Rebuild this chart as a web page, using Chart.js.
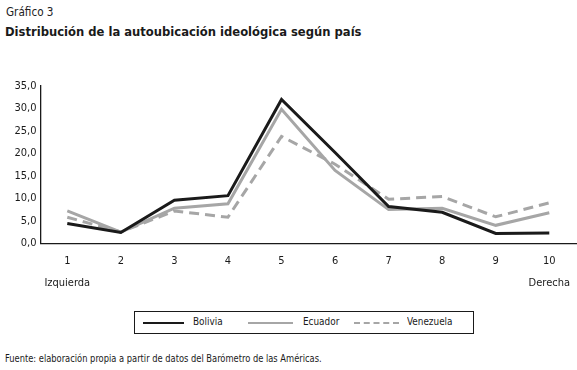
<!DOCTYPE html>
<html>
<head>
<meta charset="utf-8">
<script src="https://cdn.jsdelivr.net/npm/chart.js@4/dist/chart.umd.min.js"></script>
<style>
  html, body { margin: 0; padding: 0; background: #fff; }
  body { width: 577px; height: 370px; position: relative; overflow: hidden;
         font-family: 'Liberation Sans Narrow', 'DejaVu Sans Condensed', sans-serif; color: #1a1a1a; }
  #wrap { position: absolute; left: 0; top: 0; width: 577px; height: 300px; }
  .t { position: absolute; white-space: nowrap; transform-origin: left center; }
  #g3 { left: 6px; top: 4px; font-size: 12.5px; transform: scaleX(0.93); color: #222; }
  #ttl { left: 5px; top: 24px; font-size: 13px; font-weight: bold; transform: scaleX(0.99); }
  #src { left: 5px; top: 353px; font-size: 10px; transform: scaleX(0.925); }
  #legend { position: absolute; left: 134px; top: 311px; width: 338px; height: 21px; border: 1px solid #1a1a1a; }
  .ln { position: absolute; top: 10px; height: 0; }
  .lt { position: absolute; top: 3px; font-size: 10.5px; transform-origin: left center; transform: scaleX(0.94); }
</style>
</head>
<body>
<div class="t" id="g3">Gráfico 3</div>
<div class="t" id="ttl">Distribución de la autoubicación ideológica según país</div>
<div id="wrap"><canvas id="c"></canvas></div>
<div id="legend"></div>
<div class="t" id="src">Fuente: elaboración propia a partir de datos del Barómetro de las Américas.</div>
<script>
const categories = [['1','Izquierda'],'2','3','4','5','6','7','8','9',['10','Derecha']];
const seriesNames = ['Bolivia','Ecuador','Venezuela'];
const bolivia   = [4.4, 2.4, 9.6, 10.6, 32.0, 20.2, 8.2, 6.9, 2.2, 2.3];
const ecuador   = [7.2, 2.5, 7.8, 8.8, 29.8, 16.2, 7.5, 7.8, 4.0, 6.8];
const venezuela = [5.8, 2.5, 7.2, 5.8, 23.8, 17.6, 9.8, 10.4, 5.9, 9.0];
const yTicks = [0, 5, 10, 15, 20, 25, 30, 35];

const colors = ['#1a1a1a', '#a6a6a6', '#a6a6a6'];
const dashes = [[], [], [10, 6]];
const values = [bolivia, ecuador, venezuela];
const FONT = "'Liberation Sans Narrow', 'DejaVu Sans Condensed', sans-serif";

// legend (HTML)
const legend = document.getElementById('legend');
const legPos = [{l: 8, w: 41, tx: 58}, {l: 113, w: 45, tx: 168}, {l: 219, w: 45, tx: 272}];
seriesNames.forEach((n, i) => {
  const ln = document.createElement('div');
  ln.className = 'ln';
  ln.style.left = legPos[i].l + 'px';
  ln.style.width = legPos[i].w + 'px';
  ln.style.borderTop = '2px ' + (dashes[i].length ? 'dashed ' : 'solid ') + colors[i];
  legend.appendChild(ln);
  const tx = document.createElement('div');
  tx.className = 'lt';
  tx.style.left = legPos[i].tx + 'px';
  tx.textContent = n;
  legend.appendChild(tx);
});

new Chart(document.getElementById('c'), {
  type: 'line',
  data: {
    labels: categories,
    datasets: seriesNames.map((n, i) => ({
      label: n,
      data: values[i],
      borderColor: colors[i],
      borderWidth: 3,
      borderDash: dashes[i],
      pointRadius: 0,
      tension: 0,
      fill: false
    }))
  },
  options: {
    responsive: true,
    maintainAspectRatio: false,
    animation: false,
    layout: { padding: { top: 86, right: 0, bottom: 0, left: 0 } },
    plugins: { legend: { display: false }, tooltip: { enabled: false } },
    scales: {
      x: {
        offset: true,
        grid: { display: false, drawTicks: false },
        border: { display: true, color: '#1a1a1a', width: 1.3 },
        ticks: { color: '#1a1a1a', padding: 7, maxRotation: 0, autoSkip: false,
                 font: { family: FONT, size: 11, lineHeight: 2.0 } },
        afterFit: s => { s.height = 56.7; }
      },
      y: {
        min: 0, max: 35,
        afterBuildTicks: s => { s.ticks = yTicks.map(v => ({ value: v })); },
        grid: { display: false, drawTicks: false },
        border: { display: true, color: '#1a1a1a', width: 1.3 },
        ticks: { color: '#1a1a1a', padding: 4,
                 font: { family: FONT, size: 11 },
                 callback: v => v.toFixed(1).replace('.', ',') },
        afterFit: s => { s.width = 40.5; }
      }
    }
  }
});
</script>
</body>
</html>
